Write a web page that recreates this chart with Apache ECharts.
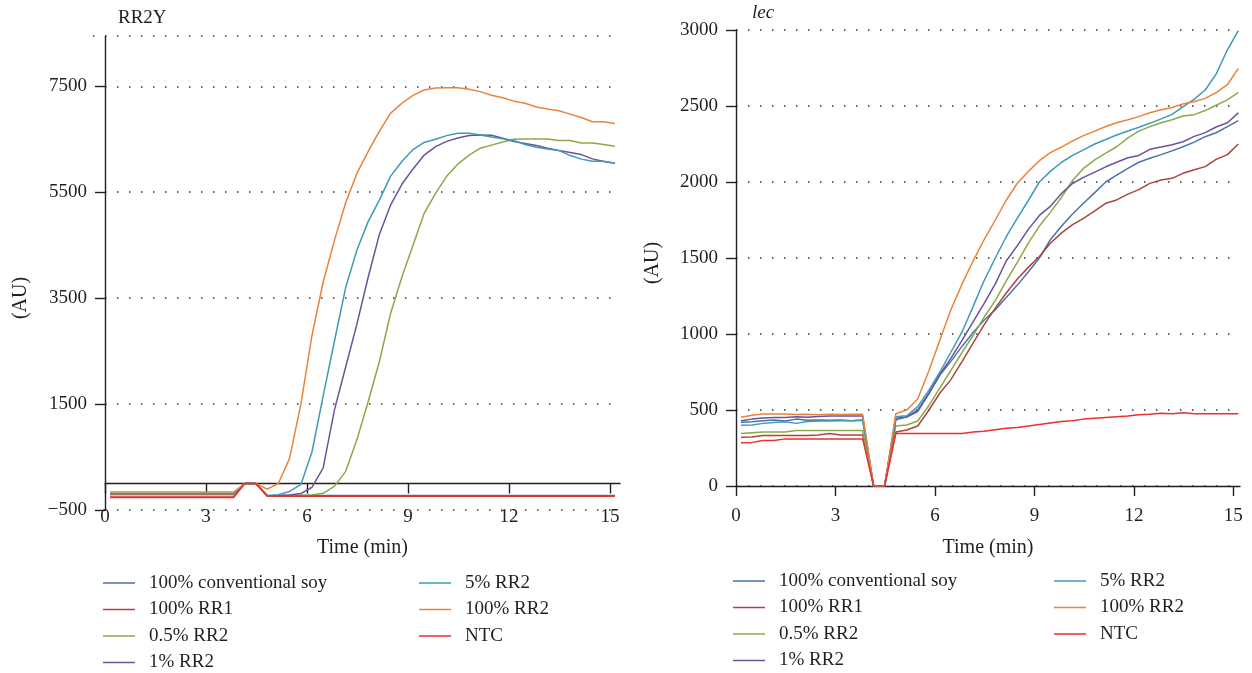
<!DOCTYPE html>
<html><head><meta charset="utf-8">
<script src="https://cdn.jsdelivr.net/npm/echarts@6/dist/echarts.min.js"></script>
<style>html,body{margin:0;padding:0;background:#fff}#c{width:1252px;height:673px}</style>
</head><body><div id="c"></div>
<script>
// ---------- data ----------
const times = [0.15,0.48,0.82,1.15,1.48,1.82,2.15,2.48,2.82,3.15,3.48,3.82,4.15,4.48,4.82,5.15,5.48,5.82,6.15,6.48,6.82,7.15,7.48,7.82,8.15,8.48,8.82,9.15,9.48,9.82,10.15,10.48,10.82,11.15,11.48,11.82,12.15,12.48,12.82,13.15,13.48,13.82,14.15,14.48,14.82,15.15];
const seriesNames = ['100% conventional soy','100% RR1','0.5% RR2','1% RR2','5% RR2','100% RR2','NTC'];
const seriesColors = ['#4a72ab','#a8453f','#8aaa4a','#6c5298','#3d9bb7','#e8843a','#ec2f2f'];
const xTickValues = [0,3,6,9,12,15];
const leftYTickValues = [-500,1500,3500,5500,7500];
const rightYTickValues = [0,500,1000,1500,2000,2500,3000];
const leftTitle = 'RR2Y';
const rightTitle = 'lec';
const yName = '(AU)';
const xName = 'Time (min)';

// Left panel (RR2Y)
const leftConv = [-200,-200,-200,-200,-200,-200,-200,-200,-200,-200,-200,-200,0,0,-225,-225,-225,-225,-225,-225,-225,-225,-225,-225,-225,-225,-225,-225,-225,-225,-225,-225,-225,-225,-225,-225,-225,-225,-225,-225,-225,-225,-225,-225,-225,-225];
const leftRR1 = [-265,-265,-265,-265,-265,-265,-265,-265,-265,-265,-265,-265,0,0,-240,-240,-240,-240,-240,-240,-240,-240,-240,-240,-240,-240,-240,-240,-240,-240,-240,-240,-240,-240,-240,-240,-240,-240,-240,-240,-240,-240,-240,-240,-240,-240];
const leftP05 = [-210,-210,-210,-210,-210,-210,-210,-210,-210,-210,-210,-210,0,0,-235,-230,-225,-220,-215,-185,-50,230,820,1550,2300,3200,3900,4500,5100,5480,5800,6030,6200,6331,6390,6450,6500,6506,6506,6506,6475,6475,6431,6431,6400,6369];
const leftP1 = [-195,-195,-195,-195,-195,-195,-195,-195,-195,-195,-195,-195,0,0,-230,-225,-215,-190,-70,290,1400,2200,3000,3900,4700,5250,5650,5940,6200,6360,6460,6525,6570,6581,6575,6520,6456,6420,6381,6331,6290,6250,6211,6130,6080,6049];
const leftP5 = [-185,-185,-185,-185,-185,-185,-185,-185,-185,-185,-185,-185,0,0,-230,-210,-150,-20,600,1650,2700,3700,4400,4950,5350,5800,6080,6305,6440,6500,6569,6613,6613,6581,6545,6510,6475,6400,6350,6318,6290,6192,6125,6087,6087,6049];
const leftP100 = [-160,-160,-160,-160,-160,-160,-160,-160,-160,-160,-160,-160,0,0,-107,0,470,1500,2800,3800,4600,5300,5850,6270,6650,6990,7180,7330,7430,7470,7475,7475,7445,7400,7330,7285,7220,7180,7110,7070,7040,6975,6910,6830,6830,6797];
const leftNTC = [-255,-255,-255,-255,-255,-255,-255,-255,-255,-255,-255,-255,0,0,-235,-235,-235,-235,-235,-235,-235,-235,-235,-235,-235,-235,-235,-235,-235,-235,-235,-235,-235,-235,-235,-235,-235,-235,-235,-235,-235,-235,-235,-235,-235,-235];

// Right panel (lec)
const rightConv = [420,422,430,435,428,440,432,435,432,435,430,435,0,0,445,454,489,610,730,820,920,1010,1090,1160,1240,1320,1410,1500,1620,1710,1790,1860,1930,2000,2045,2090,2130,2156,2180,2205,2232,2262,2298,2324,2364,2404];
const rightRR1 = [320,322,332,332,332,332,332,335,345,335,335,335,0,0,355,368,395,500,612,700,820,940,1060,1170,1270,1360,1440,1510,1597,1665,1720,1761,1810,1860,1882,1920,1950,1991,2013,2024,2057,2080,2101,2149,2180,2250];
const rightP05 = [345,350,355,355,355,365,365,365,365,365,365,365,0,0,395,401,428,530,645,760,880,990,1110,1220,1350,1470,1600,1710,1800,1900,2010,2090,2145,2190,2232,2290,2335,2364,2390,2410,2434,2443,2470,2505,2540,2590];
const rightP1 = [430,440,448,450,450,455,452,458,460,460,460,460,0,0,435,455,500,610,735,840,960,1080,1200,1330,1480,1580,1690,1780,1840,1925,1990,2030,2065,2100,2130,2160,2175,2215,2230,2245,2265,2300,2325,2362,2390,2455];
const rightP5 = [400,402,412,418,422,412,425,428,428,430,430,432,0,0,456,462,522,630,750,880,1015,1180,1350,1500,1640,1760,1880,2000,2070,2130,2175,2211,2250,2280,2309,2335,2360,2386,2415,2445,2495,2545,2605,2710,2870,2996];
const rightP100 = [452,465,474,474,474,470,472,468,472,470,472,472,0,0,475,500,572,760,960,1160,1330,1480,1620,1750,1880,1990,2070,2140,2193,2230,2270,2305,2335,2365,2390,2410,2430,2456,2475,2490,2513,2530,2550,2588,2640,2748];
const rightNTC = [285,287,300,300,310,310,310,310,310,310,310,310,0,0,345,345,345,345,345,345,345,355,360,370,380,385,395,405,415,425,430,440,445,450,455,460,468,472,478,475,482,475,475,475,475,475];

const leftSets = [leftConv,leftRR1,leftP05,leftP1,leftP5,leftP100,leftNTC];
const rightSets = [rightConv,rightRR1,rightP05,rightP1,rightP5,rightP100,rightNTC];

// ---------- chart ----------
const FONT = 'Liberation Serif';
const INK = '#231f20';
const chart = echarts.init(document.getElementById('c'), null, {renderer:'canvas'});

function pairs(vals){ return times.map((t,i)=>[t, vals[i]]); }
function mkSeries(sets, idx){
  return sets.map((vals,i)=>({
    name: seriesNames[i], type:'line', xAxisIndex: idx, yAxisIndex: idx,
    data: pairs(vals), symbol:'none', showSymbol:false, smooth:false,
    lineStyle:{width:1.5, color: seriesColors[i]}, itemStyle:{color: seriesColors[i]},
    emphasis:{disabled:true}, silent:true, z: 2 + i
  }));
}
const axisLineStyle = {color: INK, width: 1.4};
const labelStyle = {fontFamily: FONT, fontSize: 19, color: INK};
function xAxis(idx, max, margin, nameGap){
  return {
    type:'value', gridIndex: idx, min:0, max:max, interval:3,
    axisLine:{show:true, onZero:true, lineStyle:axisLineStyle},
    axisTick:{show:true, inside:false, length:10, lineStyle:axisLineStyle, customValues: xTickValues},
    axisLabel:Object.assign({margin:margin, customValues: xTickValues}, labelStyle),
    splitLine:{show:false},
    name: xName, nameLocation:'middle', nameGap: nameGap,
    nameTextStyle:{fontFamily: FONT, fontSize: 20, color: INK}
  };
}
function yAxis(idx, min, max, interval, ticks){
  return {
    type:'value', gridIndex: idx, min:min, max:max, interval:interval,
    axisLine:{show:true, lineStyle:axisLineStyle},
    axisTick:{show:true, inside:false, length:10, lineStyle:axisLineStyle, customValues: ticks},
    axisLabel:Object.assign({margin:18, customValues: ticks,
      formatter: v => (v < 0 ? '\u2212' + Math.abs(v) : String(v))}, labelStyle),
    splitLine:{show:true, lineStyle:{color:'#333', width:1.5, type:[1.5,10.5]}}
  };
}
function legend(names, left, top){
  return {
    data: names, orient:'vertical', left:left, top:top, padding:0,
    icon:'rect', itemWidth:32, itemHeight:1.5, itemGap:6.5,
    selectedMode:false,
    textStyle:{fontFamily: FONT, fontSize: 19, color: INK, lineHeight:20, padding:[0,0,0,9]}
  };
}
const col1 = seriesNames.slice(0,4), col2 = seriesNames.slice(4);

chart.setOption({
  animation:false,
  backgroundColor:'#ffffff',
  textStyle:{fontFamily: FONT},
  grid:[
    {left:105, top:36, width:515, height:474, containLabel:false, outerBoundsMode:'none'},
    {left:736, top:30, width:504, height:456, containLabel:false, outerBoundsMode:'none'}
  ],
  xAxis:[xAxis(0, 15.3, -2, 28), xAxis(1, 15.2, 21, 52)],
  yAxis:[yAxis(0, -500, 8450, 2000, leftYTickValues), yAxis(1, 0, 3000, 500, rightYTickValues)],
  legend:[legend(col1,103,573), legend(col2,419,573), legend(col1,733,571), legend(col2,1054,571)],
  graphic:[
    {type:'line', shape:{x1:93, y1:36, x2:620, y2:36}, style:{stroke:'#333', lineWidth:1.5, lineDash:[1.5,10.5]}, silent:true},
    {type:'text', x:118, y:18, style:{text:leftTitle, font:'19px "Liberation Serif"', fill:INK, textAlign:'left', textVerticalAlign:'middle', align:'left', verticalAlign:'middle'}},
    {type:'text', x:752, y:13, style:{text:rightTitle, font:'italic 19px "Liberation Serif"', fill:INK, textAlign:'left', textVerticalAlign:'middle', align:'left', verticalAlign:'middle'}},
    {type:'text', x:21, y:298, rotation:Math.PI/2, style:{text:yName, font:'20px "Liberation Serif"', fill:INK, textAlign:'center', textVerticalAlign:'middle', align:'center', verticalAlign:'middle'}},
    {type:'text', x:653, y:263, rotation:Math.PI/2, style:{text:yName, font:'20px "Liberation Serif"', fill:INK, textAlign:'center', textVerticalAlign:'middle', align:'center', verticalAlign:'middle'}}
  ],
  series: mkSeries(leftSets,0).concat(mkSeries(rightSets,1))
});
</script>
</body></html>
